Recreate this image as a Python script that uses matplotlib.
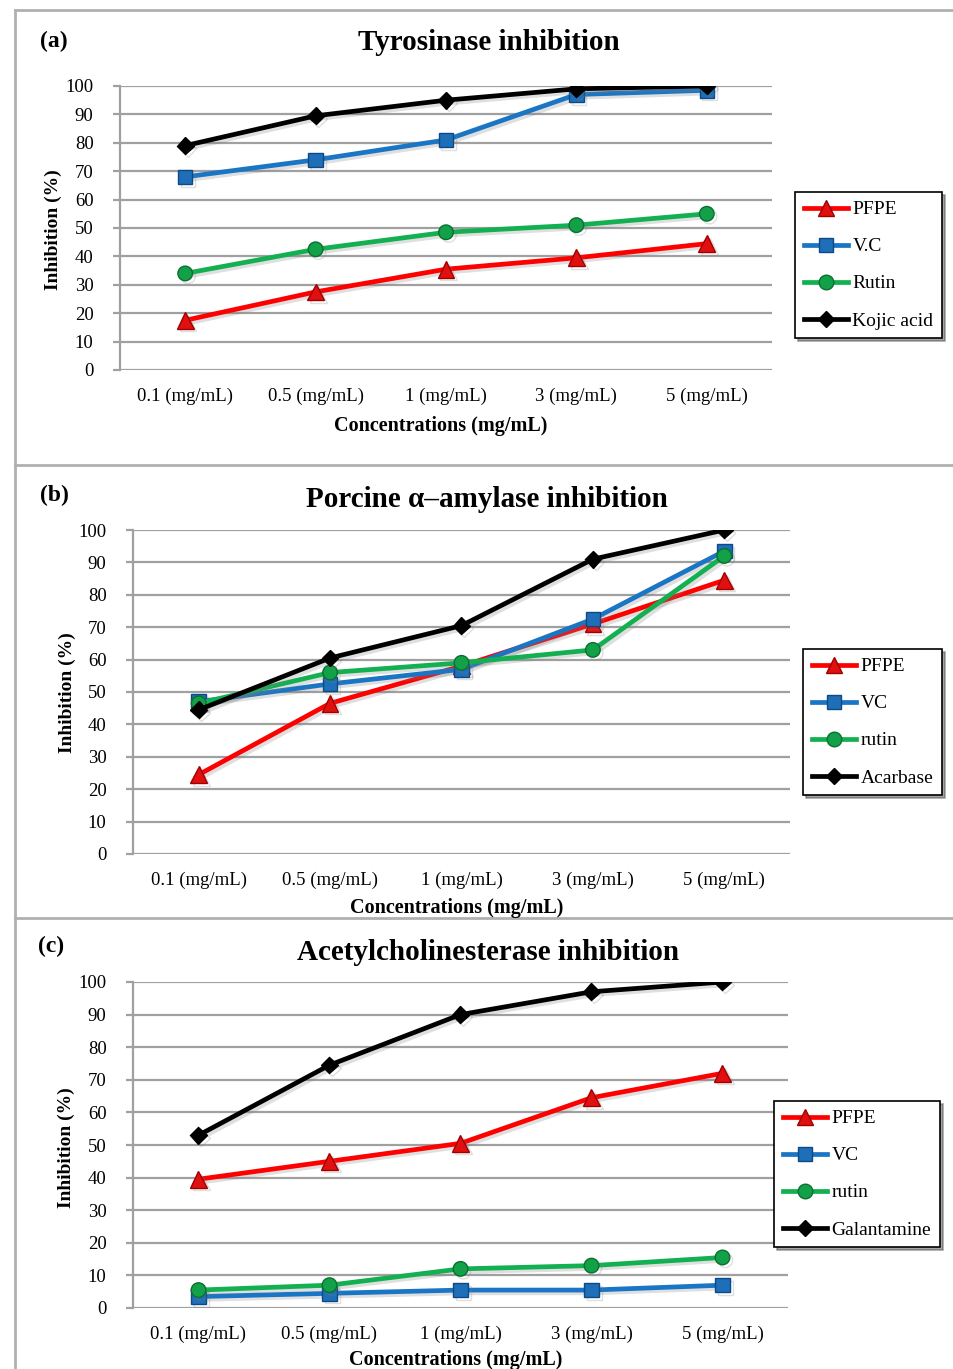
import matplotlib
matplotlib.use("Agg")
import matplotlib.pyplot as plt
import matplotlib.patheffects as pe
from matplotlib.lines import Line2D
import numpy as np

# === DATA ===
categories = ["0.1 (mg/mL)", "0.5 (mg/mL)", "1 (mg/mL)", "3 (mg/mL)", "5 (mg/mL)"]

# (a) Tyrosinase
tyr_pfpe = [17.5, 27.5, 35.5, 39.5, 44.5]
tyr_vc = [68, 74, 81, 97, 98.5]
tyr_rutin = [34, 42.5, 48.5, 51, 55]
tyr_kojic = [79, 89.5, 95, 99, 100]

# (b) Porcine alpha-amylase
amy_pfpe = [24.5, 46.5, 58, 71, 84.5]
amy_vc = [47, 52.5, 57, 72.5, 93.5]
amy_rutin = [46.5, 56, 59, 63, 92]
amy_acarbase = [44.5, 60.5, 70.5, 91, 100]

# (c) Acetylcholinesterase
ache_pfpe = [39.5, 45, 50.5, 64.5, 72]
ache_vc = [3.5, 4.5, 5.5, 5.5, 7]
ache_rutin = [5.5, 7, 12, 13, 15.5]
ache_galant = [53, 74.5, 90, 97, 100]

# === STYLE ===
plt.rcParams['font.family'] = ['Liberation Serif', 'DejaVu Serif']
W, H = 954, 1369
fig = plt.figure(figsize=(W / 100, H / 100), dpi=100)

RED = "#ff0000"
BLUE = "#1a75c4"
GREEN = "#12b050"
BLACK = "#000000"
GRID = "#a0a0a0"

styles = [
    dict(color=RED, marker='^', mfc="#e01010", mec="#a00000", ms=12),
    dict(color=BLUE, marker='s', mfc="#1e6fb8", mec="#0d4a85", ms=10.5),
    dict(color=GREEN, marker='o', mfc="#12a048", mec="#0a7030", ms=10.5),
    dict(color=BLACK, marker='D', mfc="#000000", mec="#000000", ms=8.5),
]


def fx(x):
    return x / W


def fy(y):
    return 1 - y / H


def add_panel(box, series, names, letter, title, title_xy, xlabel_xy, ylabel_xy, leg_box):
    x0, y0, x1, y1 = box
    ax = fig.add_axes([fx(x0), fy(y1), fx(x1 - x0), (y1 - y0) / H])
    x = np.arange(len(categories))
    shadow = [pe.SimpleLineShadow(offset=(2, -2), alpha=0.25, shadow_color='gray'), pe.Normal()]
    for vals, st, name in zip(series, styles, names):
        ax.plot(x, vals, lw=3.4, label=name, zorder=3, path_effects=shadow, **st)
    ax.set_xlim(-0.5, len(categories) - 0.5)
    ax.set_ylim(0, 100)
    ax.set_yticks(np.arange(0, 101, 10))
    ax.yaxis.grid(True, color=GRID, lw=1.6)
    ax.set_axisbelow(True)
    for s in ['top', 'right', 'bottom']:
        ax.spines[s].set_visible(False)
    ax.spines['left'].set_color(GRID)
    ax.spines['left'].set_linewidth(1.6)
    ax.tick_params(axis='y', length=5, color=GRID, width=1.6, labelsize=13.5, pad=14)
    ax.set_xticks(x)
    ax.set_xticklabels(categories, fontsize=13.5)
    ax.tick_params(axis='x', length=0, pad=13)

    fig.text(fx(letter[0]), fy(letter[1]), letter[2], fontsize=17, fontweight='bold', ha='left', va='center')
    fig.text(fx(title_xy[0]), fy(title_xy[1]), title, fontsize=21, fontweight='bold', ha='center', va='center')
    fig.text(fx(xlabel_xy[0]), fy(xlabel_xy[1]), "Concentrations (mg/mL)", fontsize=14.5,
             fontweight='bold', ha='center', va='center')
    fig.text(fx(ylabel_xy[0]), fy(ylabel_xy[1]), "Inhibition (%)", fontsize=14, fontweight='bold',
             ha='center', va='center', rotation=90)

    handles = [Line2D([0], [0], lw=3.4, **st) for st in styles]
    leg = fig.legend(handles, names, loc='upper left',
                     bbox_to_anchor=(fx(leg_box[0]), fy(leg_box[1])),
                     frameon=True, fancybox=False, shadow=True, fontsize=14,
                     handlelength=2.3, handletextpad=0.2, labelspacing=1.0,
                     borderpad=0.45, borderaxespad=0)
    leg.get_frame().set_edgecolor('black')
    leg.get_frame().set_linewidth(1.2)
    leg.set_zorder(5)
    return ax


add_panel((120, 86, 772, 370), [tyr_pfpe, tyr_vc, tyr_rutin, tyr_kojic],
          ["PFPE", "V.C", "Rutin", "Kojic acid"],
          (40, 41, "(a)"), "Tyrosinase inhibition", (489, 43), (441, 426), (53, 230),
          (795, 192))

add_panel((133, 530, 790, 854), [amy_pfpe, amy_vc, amy_rutin, amy_acarbase],
          ["PFPE", "VC", "rutin", "Acarbase"],
          (40, 495, "(b)"), "Porcine \u03b1\u2013amylase inhibition", (487, 500), (457, 908), (67, 693),
          (803, 649))

add_panel((133, 982, 788, 1308), [ache_pfpe, ache_vc, ache_rutin, ache_galant],
          ["PFPE", "VC", "rutin", "Galantamine"],
          (38, 946, "(c)"), "Acetylcholinesterase inhibition", (488, 952), (456, 1360), (66, 1148),
          (774, 1101))

# panel frame lines
for y in [10, 465, 918]:
    fig.add_artist(Line2D([fx(15), 1], [fy(y), fy(y)], color="#b0b0b0", lw=2))
fig.add_artist(Line2D([fx(15), fx(15)], [fy(10), 0], color="#b0b0b0", lw=2))

fig.savefig("out.png", dpi=100, facecolor='white')
